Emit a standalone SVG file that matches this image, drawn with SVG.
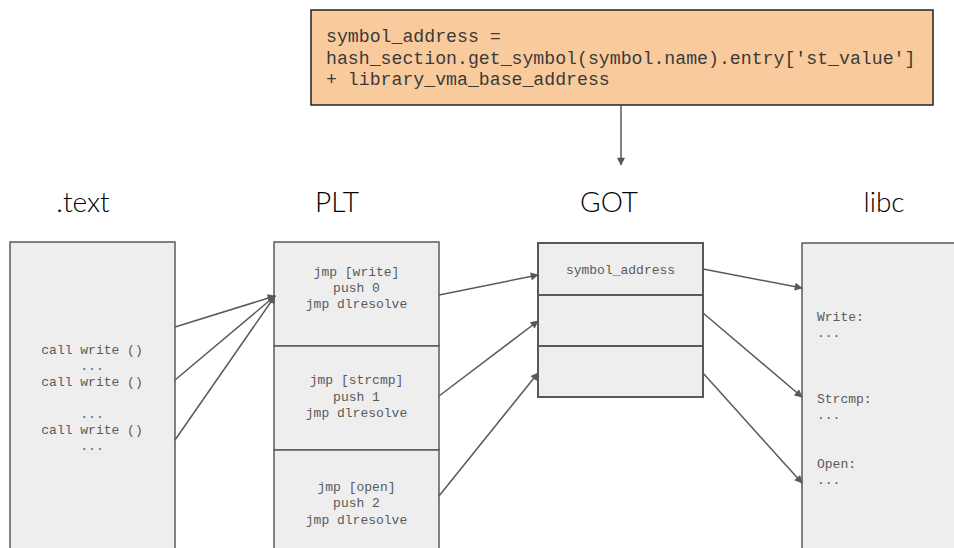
<svg xmlns="http://www.w3.org/2000/svg" width="954" height="548" viewBox="0 0 954 548">
  <defs>
    <marker id="arrow" viewBox="0 0 10 10" refX="9" refY="5" markerWidth="10" markerHeight="8" markerUnits="userSpaceOnUse" orient="auto">
      <path d="M0,0 L10,5 L0,10 z" fill="#595959"/>
    </marker>
    <style>
      .title { font-family: Lato, "Open Sans", sans-serif; font-size: 28px; font-weight: 300; fill: #000; text-anchor: middle; }
      .box { fill: #eeeeee; stroke: #595959; stroke-width: 1.5; }
      .got { fill: #eeeeee; stroke: #595959; stroke-width: 2; }
      .code { font-family: "Liberation Mono", "Courier New", monospace; font-size: 13px; fill: #5a5a5a; }
      .mid { text-anchor: middle; }
      .formula { font-family: "Liberation Mono", "Courier New", monospace; font-size: 18.2px; fill: #3a3a3a; }
      .conn { fill: none; stroke: #595959; stroke-width: 1.5; marker-end: url(#arrow); }
    </style>
  </defs>

  <!-- section titles -->
  <g id="titles">
    <text class="title" x="83" y="212">.text</text>
    <text class="title" x="337" y="212">PLT</text>
    <text class="title" x="609" y="212">GOT</text>
    <text class="title" x="884" y="212">libc</text>
  </g>

  <!-- address formula -->
  <g id="formula">
    <rect x="311" y="10" width="622" height="95" fill="#f9cb9c" stroke="#222" stroke-width="1.5"/>
    <text class="formula" x="326" y="42">symbol_address =</text>
    <text class="formula" x="326" y="64">hash_section.get_symbol(symbol.name).entry['st_value']</text>
    <text class="formula" x="326" y="85">+ library_vma_base_address</text>
  </g>

  <!-- .text section -->
  <g id="text-section">
    <rect class="box" x="10" y="242" width="165" height="320"/>
    <text class="code mid" x="92" y="354">call write ()</text>
    <text class="code mid" x="92" y="370">...</text>
    <text class="code mid" x="92" y="386">call write ()</text>
    <text class="code mid" x="92" y="418">...</text>
    <text class="code mid" x="92" y="434">call write ()</text>
    <text class="code mid" x="92" y="450">...</text>
  </g>

  <!-- PLT entries -->
  <g id="plt-write">
    <rect class="box" x="274" y="242" width="165" height="104"/>
    <text class="code mid" x="356.5" y="276">jmp [write]</text>
    <text class="code mid" x="356.5" y="292">push 0</text>
    <text class="code mid" x="356.5" y="308">jmp dlresolve</text>
  </g>
  <g id="plt-strcmp">
    <rect class="box" x="274" y="346" width="165" height="104"/>
    <text class="code mid" x="356.5" y="384">jmp [strcmp]</text>
    <text class="code mid" x="356.5" y="401">push 1</text>
    <text class="code mid" x="356.5" y="417">jmp dlresolve</text>
  </g>
  <g id="plt-open">
    <rect class="box" x="274" y="450" width="165" height="110"/>
    <text class="code mid" x="356.5" y="491">jmp [open]</text>
    <text class="code mid" x="356.5" y="507">push 2</text>
    <text class="code mid" x="356.5" y="524">jmp dlresolve</text>
  </g>

  <!-- GOT slots -->
  <g id="got-write">
    <rect class="got" x="538" y="243" width="165" height="52"/>
    <text class="code mid" x="620.5" y="274">symbol_address</text>
  </g>
  <g id="got-strcmp">
    <rect class="got" x="538" y="295" width="165" height="51"/>
  </g>
  <g id="got-open">
    <rect class="got" x="538" y="346" width="165" height="51"/>
  </g>

  <!-- libc -->
  <g id="libc">
    <rect class="box" x="802" y="243" width="170" height="320"/>
    <text class="code" x="817" y="321">Write:</text>
    <text class="code" x="817" y="337">...</text>
    <text class="code" x="817" y="403">Strcmp:</text>
    <text class="code" x="817" y="419">...</text>
    <text class="code" x="817" y="468">Open:</text>
    <text class="code" x="817" y="484">...</text>
  </g>

  <!-- connectors -->
  <g id="connectors">
    <line class="conn" x1="621" y1="105" x2="621" y2="165"/>
    <line class="conn" x1="175" y1="327" x2="275" y2="296"/>
    <line class="conn" x1="175" y1="380" x2="275" y2="296"/>
    <line class="conn" x1="175" y1="440" x2="275" y2="296"/>
    <line class="conn" x1="439" y1="295" x2="538" y2="275"/>
    <line class="conn" x1="439" y1="396" x2="538" y2="321"/>
    <line class="conn" x1="439" y1="496" x2="538" y2="373"/>
    <line class="conn" x1="703" y1="269" x2="802" y2="288"/>
    <line class="conn" x1="703" y1="313" x2="802" y2="397"/>
    <line class="conn" x1="703" y1="373" x2="802" y2="483"/>
  </g>
</svg>
